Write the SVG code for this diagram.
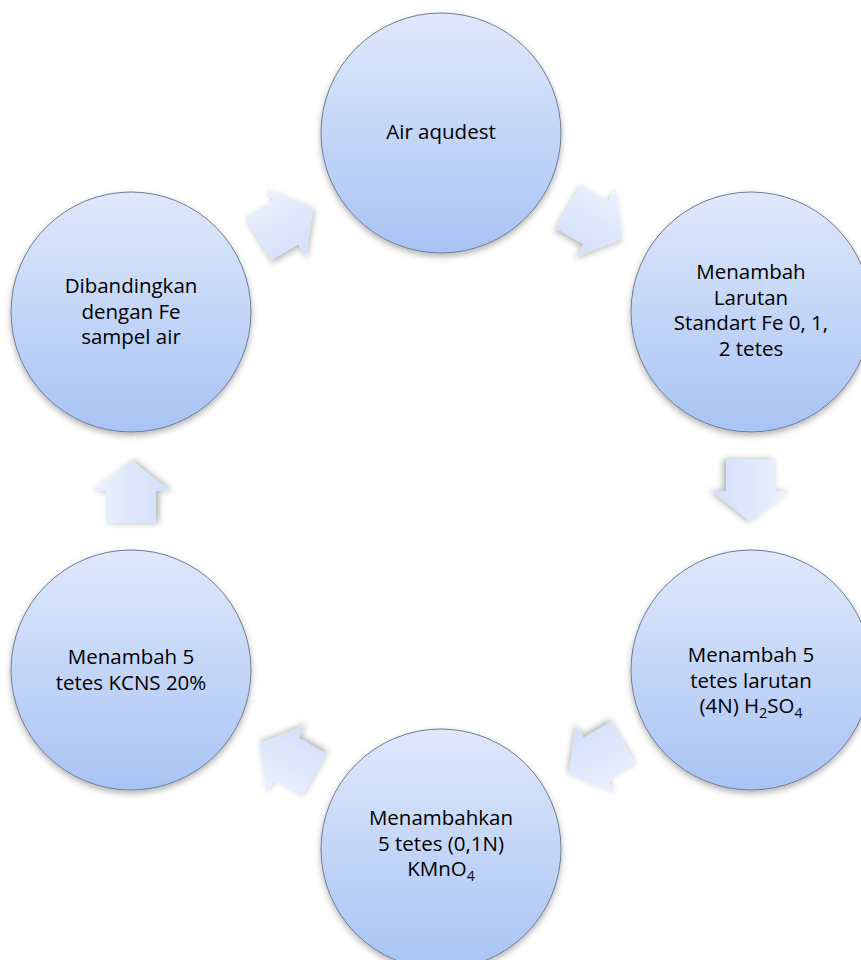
<svg xmlns="http://www.w3.org/2000/svg" width="861" height="960" viewBox="0 0 861 960">
  <defs>
    <linearGradient id="gCircle" x1="0" y1="0" x2="0" y2="1">
      <stop offset="0" stop-color="#dfe8fb"/>
      <stop offset="1" stop-color="#a8c4f4"/>
    </linearGradient>
    <linearGradient id="gArrow" x1="0" y1="0" x2="0" y2="1">
      <stop offset="0" stop-color="#ecf1fd"/>
      <stop offset="1" stop-color="#d2dffa"/>
    </linearGradient>
    <filter id="shadow" x="-20%" y="-20%" width="140%" height="140%">
      <feDropShadow dx="0" dy="3" stdDeviation="3" flood-color="#000" flood-opacity="0.3"/>
    </filter>
    <path id="arrow" d="M -32,-25 L 0,-25 L 0,-39 L 31,0 L 0,39 L 0,25 L -32,25 Z"/>
  </defs>
  <style>
    .node circle { fill: url(#gCircle); stroke: #6e7c94; stroke-width: 1; filter: url(#shadow); }
    .node text { font-family: "Open Sans", "Liberation Sans", sans-serif; font-size: 20.5px; fill: #000; text-anchor: middle; }
    .sub { font-size: 14px; }
    .conn use { fill: url(#gArrow); filter: url(#shadow); }
  </style>
  <rect width="861" height="960" fill="#fff"/>

  <g id="connectors" class="conn">
    <use href="#arrow" transform="translate(596,222.5) rotate(30)"/>
    <use href="#arrow" transform="translate(751,491) rotate(90)"/>
    <use href="#arrow" transform="translate(596,759.5) rotate(150)"/>
    <use href="#arrow" transform="translate(286,759.5) rotate(210)"/>
    <use href="#arrow" transform="translate(131,491) rotate(270)"/>
    <use href="#arrow" transform="translate(286,222.5) rotate(330)"/>
  </g>

  <g id="node-air-aqudest" class="node">
    <circle cx="441" cy="133" r="120"/>
    <text x="441" y="139">Air aqudest</text>
  </g>

  <g id="node-larutan-standart" class="node">
    <circle cx="751" cy="312" r="120"/>
    <text x="751" y="279">Menambah</text>
    <text x="751" y="304.5">Larutan</text>
    <text x="751" y="330">Standart Fe 0, 1,</text>
    <text x="751" y="355.5">2 tetes</text>
  </g>

  <g id="node-h2so4" class="node">
    <circle cx="751" cy="670" r="120"/>
    <text x="751" y="662">Menambah 5</text>
    <text x="751" y="687.5">tetes larutan</text>
    <text x="751" y="713">(4N) H<tspan class="sub" dy="5">2</tspan><tspan dy="-5">SO</tspan><tspan class="sub" dy="5">4</tspan></text>
  </g>

  <g id="node-kmno4" class="node">
    <circle cx="441" cy="849" r="120"/>
    <text x="441" y="825">Menambahkan</text>
    <text x="441" y="850.5">5 tetes (0,1N)</text>
    <text x="441" y="876">KMnO<tspan class="sub" dy="5">4</tspan></text>
  </g>

  <g id="node-kcns" class="node">
    <circle cx="131" cy="670" r="120"/>
    <text x="131" y="664">Menambah 5</text>
    <text x="131" y="689.5">tetes KCNS 20%</text>
  </g>

  <g id="node-dibandingkan" class="node">
    <circle cx="131" cy="312" r="120"/>
    <text x="131" y="293">Dibandingkan</text>
    <text x="131" y="318.5">dengan Fe</text>
    <text x="131" y="344">sampel air</text>
  </g>
</svg>
